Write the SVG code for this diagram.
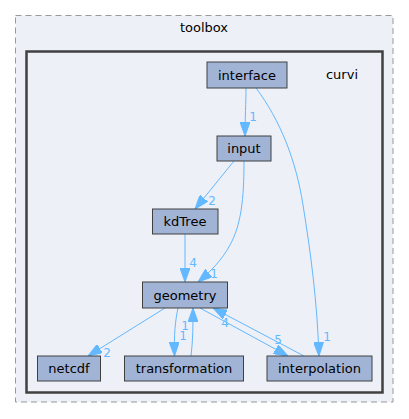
<svg xmlns="http://www.w3.org/2000/svg" width="409" height="419" viewBox="0 0 409 419">
<style>
  .lbl { font-family: "DejaVu Sans", sans-serif; font-size: 13px; fill: #000000; text-anchor: middle; }
  .node rect { fill: #a2b4d6; stroke: #404040; stroke-width: 1; }
  .edge path.line { fill: none; stroke: #63b8ff; stroke-width: 1; }
  .elbl { font-family: "DejaVu Sans", sans-serif; font-size: 12px; fill: #63b8ff; text-anchor: middle; }
</style>
<defs>
  <marker id="arrow" viewBox="0 0 14 10" refX="14" refY="5" markerWidth="14" markerHeight="10" markerUnits="userSpaceOnUse" orient="auto">
    <path d="M0,0 L14,5 L0,10 Z" fill="#63b8ff" stroke="#63b8ff" stroke-width="1"/>
  </marker>
</defs>
<rect x="0" y="0" width="409" height="419" fill="#ffffff"/>
<g id="cluster-toolbox">
  <rect x="15.5" y="15.5" width="377.5" height="386.5" fill="#edf0f7" stroke="#999999" stroke-width="1" stroke-dasharray="6,4"/>
  <text class="lbl" x="204" y="32">toolbox</text>
</g>
<g id="cluster-curvi">
  <rect x="26.5" y="51.5" width="356" height="341" fill="#edf0f7" stroke="#404040" stroke-width="2.5"/>
  <text class="lbl" x="342" y="79">curvi</text>
</g>
<g id="edges" class="edge">
  <path class="line" d="M246,88 C246,102 245,118 245,136" marker-end="url(#arrow)"/>
  <text class="elbl" x="253" y="121">1</text>
  <path class="line" d="M256,88 C280,120 296,160 303,205 C311,255 317,300 319,356" marker-end="url(#arrow)"/>
  <text class="elbl" x="327" y="341">1</text>
  <path class="line" d="M234,161 L195,209" marker-end="url(#arrow)"/>
  <text class="elbl" x="212" y="205">2</text>
  <path class="line" d="M244,161 C244,200 241,225 230,245 C222,260 210,272 198,282" marker-end="url(#arrow)"/>
  <text class="elbl" x="214" y="278">1</text>
  <path class="line" d="M185,234 L185,282" marker-end="url(#arrow)"/>
  <text class="elbl" x="193" y="267">4</text>
  <path class="line" d="M165,308 L88,356" marker-end="url(#arrow)"/>
  <text class="elbl" x="107" y="357">2</text>
  <path class="line" d="M178,308 C175,322 174,335 174.5,356" marker-end="url(#arrow)"/>
  <text class="elbl" x="183" y="339.5">1</text>
  <path class="line" d="M191,356 C193,340 193,325 193,308" marker-end="url(#arrow)"/>
  <text class="elbl" x="185" y="329.5">1</text>
  <path class="line" d="M200,308 L288,356" marker-end="url(#arrow)"/>
  <text class="elbl" x="225" y="327">4</text>
  <path class="line" d="M304,356 L213,308" marker-end="url(#arrow)"/>
  <text class="elbl" x="278" y="344">5</text>
</g>
<g id="node-interface" class="node">
  <rect x="207" y="62" width="80" height="26"/>
  <text class="lbl" x="247" y="79.5">interface</text>
</g>
<g id="node-input" class="node">
  <rect x="217" y="136" width="54" height="25"/>
  <text class="lbl" x="244" y="153">input</text>
</g>
<g id="node-kdTree" class="node">
  <rect x="152.5" y="209" width="65.5" height="25"/>
  <text class="lbl" x="185" y="226">kdTree</text>
</g>
<g id="node-geometry" class="node">
  <rect x="142.5" y="282" width="85" height="26"/>
  <text class="lbl" x="185" y="299.5">geometry</text>
</g>
<g id="node-netcdf" class="node">
  <rect x="37.5" y="356" width="63" height="25"/>
  <text class="lbl" x="69" y="373">netcdf</text>
</g>
<g id="node-transformation" class="node">
  <rect x="124.5" y="356" width="119" height="25"/>
  <text class="lbl" x="184" y="373">transformation</text>
</g>
<g id="node-interpolation" class="node">
  <rect x="267" y="356" width="105" height="25"/>
  <text class="lbl" x="319.5" y="373">interpolation</text>
</g>
</svg>
